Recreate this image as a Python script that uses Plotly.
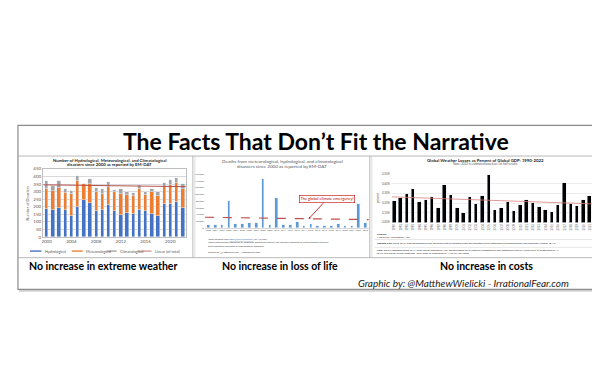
import numpy as np
import plotly.graph_objects as go

# ---------------- data ----------------
years1 = list(range(2000, 2023))
hydro = [185, 178, 191, 178, 141, 202, 243, 224, 174, 178, 213, 170, 148, 158, 150, 180, 170, 150, 140, 220, 220, 235, 195]
meteo = [130, 127, 131, 111, 142, 168, 105, 128, 126, 109, 117, 125, 137, 122, 120, 135, 105, 145, 130, 110, 125, 120, 125]
clim = [55, 32, 52, 26, 21, 36, 6, 33, 22, 28, 35, 15, 30, 15, 20, 30, 20, 20, 30, 30, 30, 35, 30]
ticks1 = [2000, 2004, 2008, 2012, 2016, 2020]

years2 = list(range(2000, 2024))
deaths = [9500, 9500, 10500, 79000, 13000, 13000, 15000, 15000, 144000, 8500, 88000, 8500,
          8500, 19000, 6500, 12000, 7500, 7500, 5500, 12000, 7500, 5500, 72000, 15000]
deaths_trend_years = [1999.5, 2023.5]
deaths_trend = [32000, 25000]

years3 = list(range(1990, 2023))
losses = [0.223, 0.257, 0.297, 0.351, 0.213, 0.233, 0.264, 0.152, 0.382, 0.287, 0.149, 0.101,
          0.260, 0.189, 0.277, 0.486, 0.125, 0.155, 0.213, 0.115, 0.182, 0.233, 0.206, 0.166,
          0.128, 0.111, 0.182, 0.409, 0.189, 0.176, 0.233, 0.277, 0.139]
loss_err_plus = [0.10]
loss_err_minus = [0.07]
loss_trend_years = [1989.6, 2022.4]
loss_trend = [0.263, 0.189]

# ---------------- helpers ----------------
W, H = 600, 380
def X(p): return p / W
def Y(p): return 1 - p / H

BLUE, ORANGE, GRAY, RED = "#4472C4", "#ED7D31", "#A5A5A5", "#B5514B"
fig = go.Figure()

# panel 1 stacked bars
fig.add_bar(x=years1, y=hydro, marker_color=BLUE, width=0.55, xaxis="x", yaxis="y", showlegend=False)
fig.add_bar(x=years1, y=meteo, marker_color=ORANGE, width=0.55, xaxis="x", yaxis="y", showlegend=False)
fig.add_bar(x=years1, y=clim, marker_color=GRAY, width=0.55, xaxis="x", yaxis="y", showlegend=False)
tot = np.array(hydro) + np.array(meteo) + np.array(clim)
c = np.polyfit(years1, tot, 1)
fx = [years1[0] - 0.5, years1[-1] + 0.5]
fig.add_scatter(x=fx, y=list(np.polyval(c, fx)), mode="lines", line=dict(color=RED, width=1),
                xaxis="x", yaxis="y", showlegend=False)

# panel 2
fig.add_bar(x=years2, y=deaths, marker_color="#5B9BD5", width=0.38, xaxis="x2", yaxis="y2", showlegend=False)
fig.add_scatter(x=deaths_trend_years, y=deaths_trend, mode="lines",
                line=dict(color="#C0504D", width=1.2, dash="dash"), xaxis="x2", yaxis="y2", showlegend=False)

# panel 3
fig.add_bar(x=years3[:-1], y=losses[:-1], marker_color="#000000", width=0.55, xaxis="x3", yaxis="y3", showlegend=False)
fig.add_bar(x=years3[-1:], y=losses[-1:], marker_color="#7F7F7F", width=0.55, xaxis="x3", yaxis="y3", showlegend=False,
            error_y=dict(type="data", array=loss_err_plus, arrayminus=loss_err_minus, color="#3CB371", thickness=1, width=1.5))
fig.add_scatter(x=loss_trend_years, y=loss_trend, mode="lines", line=dict(color="#D9817C", width=0.8),
                xaxis="x3", yaxis="y3", showlegend=False)

tf = dict(family="Lato, Arial", color="#595959")
fig.update_layout(
    width=W, height=H, margin=dict(l=0, r=0, t=0, b=0), autosize=False,
    paper_bgcolor="white", plot_bgcolor="rgba(0,0,0,0)", barmode="stack", bargap=0,
    font=dict(family="Lato, Arial"),
    xaxis=dict(domain=[X(33), X(177)], range=[1999.4, 2022.6], tickvals=ticks1, tickfont=dict(size=4.5, **tf),
               showgrid=False, showline=True, linecolor="#BFBFBF", linewidth=0.6, mirror=True, ticks="", anchor="y", ticklen=0),
    yaxis=dict(domain=[Y(230), Y(161)], range=[0, 450], dtick=50, tickfont=dict(size=4.5, **tf), gridcolor="#D9D9D9",
               gridwidth=0.5, showline=True, linecolor="#BFBFBF", linewidth=0.6, mirror=True, zeroline=False, anchor="x"),
    xaxis2=dict(domain=[X(195.5), X(360)], range=[1999.5, 2023.5], tickvals=years2, tickangle=0,
                tickfont=dict(size=2.3, **tf), showgrid=False, showline=False, anchor="y2", ticks=""),
    yaxis2=dict(domain=[Y(221), Y(166)], range=[0, 160000], dtick=20000, tickformat=",", tickfont=dict(size=2.6, **tf),
                showgrid=False, zeroline=True, zerolinecolor="#D9D9D9", zerolinewidth=0.5, anchor="x2"),
    xaxis3=dict(domain=[X(382), X(592)], range=[1989.4, 2022.6], tickvals=years3, tickangle=-90,
                tickfont=dict(size=2.8, **tf), showgrid=False, showline=False, anchor="y3", ticks=""),
    yaxis3=dict(domain=[Y(215.3), Y(166)], range=[0, 0.5], dtick=0.1, tickformat=".2f", ticksuffix="%",
                tickfont=dict(size=2.8, **tf), gridcolor="#EDEDED", gridwidth=0.4, zeroline=False, anchor="x3",
                title=dict(text="percent", font=dict(size=3, color="#595959"), standoff=2)),
)

shapes = []
def rect(x0, y0, x1, y1, color, width=1, fill=None, xref="paper", yref="paper"):
    d = dict(type="rect", xref=xref, yref=yref, x0=X(x0), x1=X(x1), y0=Y(y0), y1=Y(y1), line=dict(color=color, width=width))
    if fill:
        d["fillcolor"] = fill
    shapes.append(d)
def line(x0, y0, x1, y1, color, width=1, dash=None):
    shapes.append(dict(type="line", xref="paper", yref="paper", x0=X(x0), x1=X(x1), y0=Y(y0), y1=Y(y1),
                       line=dict(color=color, width=width, dash=dash)))

# outer frame with light shadow
line(9, 284.5, 597, 284.5, "#D0D0D0", 2)
rect(8, 117, 596, 283, "#8C8C8C", 1.2)
line(8, 148, 596, 148, "#A6A6A6", 0.8)
line(8, 251, 596, 251, "#A6A6A6", 0.8)
line(183.5, 148, 183.5, 251, "#A6A6A6", 0.8)
line(185.5, 148, 185.5, 251, "#C8C8C8", 0.6)
line(361, 148, 361, 251, "#A6A6A6", 0.8)
line(363, 148, 363, 251, "#C8C8C8", 0.6)

# panel 1 legend swatches
rect(20, 243.6, 31.5, 245, BLUE, 0, BLUE)
rect(62, 243.6, 73, 245, ORANGE, 0, ORANGE)
rect(97, 243.6, 107, 245, GRAY, 0, GRAY)
line(128, 244.3, 142, 244.3, RED, 0.8)
# panel 3 separators
line(366, 232.5, 590, 232.5, "#BFBFBF", 0.4)
line(366, 240.5, 590, 240.5, "#BFBFBF", 0.4)

ann = []
def text(x, y, s, size, color="#000000", bold=False, italic=False, anchor="center", angle=0, family=None):
    if bold:
        s = "<b>" + s + "</b>"
    if italic:
        s = "<i>" + s + "</i>"
    ann.append(dict(xref="paper", yref="paper", x=X(x), y=Y(y), text=s, showarrow=False, xanchor=anchor,
                    yanchor="middle", textangle=angle, font=dict(size=size, color=color, family=family or "Lato, Arial")))

text(307, 132.5, "The Facts That Don’t Fit the Narrative", 23, bold=True)
# panel titles
text(100, 152.5, "Number of Hydrological, Meteorological, and Climatological", 4.3, "#262626", bold=True)
text(100, 157, "disasters since 2000 as reported by EM-DAT", 4.3, "#262626", bold=True)
text(17, 195, "Number of Disasters", 3.8, "#595959", angle=-90)
text(33.5, 244.3, "Hydrological", 3.8, "#595959", anchor="left")
text(74.5, 244.3, "Meteorological", 3.8, "#595959", anchor="left")
text(108.5, 244.3, "Climatological", 3.8, "#595959", anchor="left")
text(143.5, 244.3, "Linear (of total)", 3.8, "#595959", anchor="left")

text(273, 152.7, "Deaths from meteorological, hydrological, and climatological", 4.6, "#595959")
text(273, 158.3, "disasters since 2000 as reported by EM-DAT", 4.6, "#595959")
text(197, 232.7, "*Data accessed from <span style='color:#4472C4'><u>https://public.emdat.be/</u></span> on 1/2/2024", 2.3, "#404040", anchor="left")
text(197, 236.0, "*Data omits disasters attributed to: epidemics, geophysical activity, and industrial accidents to isolate disasters that have", 2.3, "#404040", anchor="left")
text(197, 238.8, "been supposedly increased by anthropogenic emissions.", 2.3, "#404040", anchor="left")
text(197, 245.5, "Graphic by: @MatthewWielicki – IrrationalFear.com", 2.3, "#404040", anchor="left")

text(477, 152.5, "Global Weather Losses as Percent of Global GDP: 1990-2022", 4.3, "#262626", bold=True)
text(477, 156.3, "Note: 2022 is estimated based on 1st half results", 3, "#595959")
text(366, 226.8, "Sources:", 2.6, "#262626", bold=True, anchor="left")
text(366, 229.6, "Munich Re, World Bank, Aon", 2.6, "#262626", anchor="left")
text(366, 236.5, "<b>Updated from:</b> Pielke 2019, Tracking progress on the economic costs of disasters under the indicators of the sustainable development goals. Environmental Hazards 18:1-6.",
     2.4, "#262626", anchor="left")
text(366, 243.5, "<b>Note:</b> 2022 is estimated based on 1H 2022 results reported by Aon, adjusted based on (a) historical relationship of two estimates of loss vs Munich Re & (b) relationship of 1H",
     2.4, "#262626", anchor="left")
text(366, 246.5, "to full year results. Green represents ~90% range of relationship of 1H to full year losses.", 2.4, "#262626", anchor="left")

# captions
text(93, 259, "No increase in extreme weather", 10.5, bold=True)
text(271, 259, "No increase in loss of life", 10.5, bold=True)
text(478, 259, "No increase in costs", 10.5, bold=True)
text(563, 277, "Graphic by: @MatthewWielicki - IrrationalFear.com", 10, "#1a1a1a", italic=True, anchor="right")

# climate emergency callout
ann.append(dict(xref="x2", yref="y2", x=2014.7, y=27000, ax=18, ay=-19.5, showarrow=True, arrowhead=2,
                arrowsize=0.5, arrowwidth=0.8, arrowcolor="#C00000",
                text="The global climate emergency!", font=dict(size=4, color="#C00000", family="Lato, Arial"),
                bordercolor="#C00000", borderwidth=0.6, borderpad=0.8, bgcolor="white"))

fig.update_layout(shapes=shapes, annotations=ann)
fig.write_html("out.html")
